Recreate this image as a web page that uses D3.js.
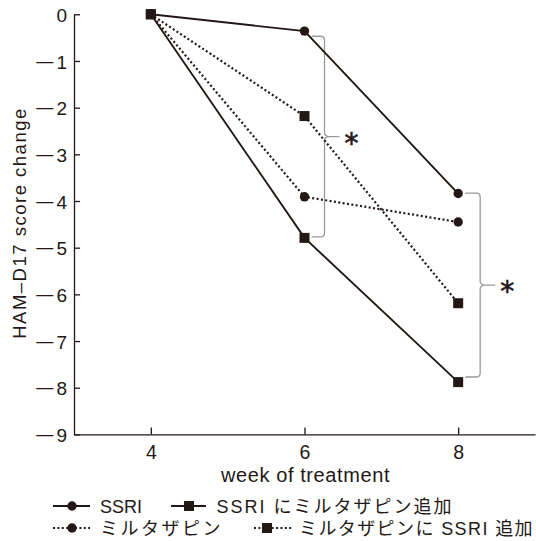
<!DOCTYPE html>
<html>
<head>
<meta charset="utf-8">
<script src="https://cdn.jsdelivr.net/npm/d3@7"></script>
<style>
  body { margin: 0; background: #fff; }
  svg { display: block; }
</style>
</head>
<body>
<div id="chart"></div>
<script>
///////////////////////////////////////////////////////////////////////////////
//// Data /////////////////////////////////////////////////////////////////////
///////////////////////////////////////////////////////////////////////////////
const weeks = [4, 6, 8];

const seriesNames = ["SSRI", "SSRI にミルタザピン追加", "ミルタザピン", "ミルタザピンに SSRI 追加"];

// HAM-D17 score change per week
const ssri = [0, -0.36, -3.84];
const ssriPlusMirtazapine = [0, -4.79, -7.88];
const mirtazapine = [0, -3.91, -4.45];
const mirtazapinePlusSsri = [0, -2.18, -6.19];

const yTicks = [0, -1, -2, -3, -4, -5, -6, -7, -8, -9];
const xTicks = [4, 6, 8];

const xLabel = "week of treatment";
const yLabel = "HAM–D17 score change";

// Significance brackets (week, top value, bottom value)
const bracketWeeks = [6, 8];
const bracketTops = [-0.47, -3.83];
const bracketBottoms = [-4.77, -7.77];
const bracketMarks = ["*", "*"];

///////////////////////////////////////////////////////////////////////////////
//// Set Up ///////////////////////////////////////////////////////////////////
///////////////////////////////////////////////////////////////////////////////
const width = 536,
      height = 541;

const ink = "#231815",
      bracketColor = "#9a9a9a";

const latinFont = "'Liberation Sans', Arial, sans-serif",
      mixedFont = "'Liberation Sans', 'Noto Sans CJK JP', sans-serif";

const x = d3.scaleLinear()
    .domain([3, 9])
    .range([74, 535]);

const y = d3.scaleLinear()
    .domain([0, -9])
    .range([14.3, 434.4]);

const series = [ssri, ssriPlusMirtazapine, mirtazapine, mirtazapinePlusSsri];

// Drawing style of each series: line dotted or not, marker shape
const seriesStyle = [
  { dotted: false, shape: "circle" },
  { dotted: false, shape: "square" },
  { dotted: true, shape: "circle" },
  { dotted: true, shape: "square" }
];

const svg = d3.select("#chart")
  .append("svg")
    .attr("width", width)
    .attr("height", height);

///////////////////////////////////////////////////////////////////////////////
//// Axes /////////////////////////////////////////////////////////////////////
///////////////////////////////////////////////////////////////////////////////
const tickFont = 19,
      tickPad = 7;

const yAxis = svg.append("g")
    .attr("transform", `translate(${x(3)},0)`)
    .call(d3.axisLeft(y)
        .tickValues(yTicks)
        .tickFormat(d => Math.abs(d))
        .tickSizeInner(-6)
        .tickSizeOuter(0)
        .tickPadding(tickPad));

yAxis.selectAll("text")
    .attr("font-size", tickFont)
    .attr("font-family", latinFont)
    .attr("fill", ink)
    .attr("dy", "0.37em");

// Long minus sign in front of negative labels, as in the printed figure
yAxis.selectAll(".tick")
    .filter(d => d < 0)
  .append("text")
    .attr("transform", `translate(${-tickPad - 0.556 * tickFont - 1.5},0) scale(1.85,1)`)
    .attr("dy", "0.37em")
    .attr("text-anchor", "end")
    .attr("font-size", tickFont)
    .attr("font-family", latinFont)
    .attr("fill", ink)
    .text("\u2212");

const xAxis = svg.append("g")
    .attr("transform", `translate(0,${y(-9)})`)
    .call(d3.axisBottom(x)
        .tickValues(xTicks)
        .tickFormat(d3.format("d"))
        .tickSizeInner(-7)
        .tickSizeOuter(0)
        .tickPadding(11));

xAxis.selectAll("text")
    .attr("font-size", 19.5)
    .attr("font-family", latinFont)
    .attr("fill", ink);

svg.selectAll(".domain, .tick line")
    .attr("stroke", ink)
    .attr("stroke-width", 1.3);

// Axis titles
svg.append("text")
    .attr("x", 305.5)
    .attr("y", 482.3)
    .attr("text-anchor", "middle")
    .attr("font-family", latinFont)
    .attr("font-size", 20)
    .attr("fill", ink)
    .attr("letter-spacing", 0.6)
    .text(xLabel);

svg.append("text")
    .attr("transform", "translate(26,223) rotate(-90)")
    .attr("text-anchor", "middle")
    .attr("font-family", latinFont)
    .attr("font-size", 18.5)
    .attr("fill", ink)
    .attr("letter-spacing", 1.5)
    .text(yLabel);

///////////////////////////////////////////////////////////////////////////////
//// Brackets /////////////////////////////////////////////////////////////////
///////////////////////////////////////////////////////////////////////////////
const bracketOffset = [20, 22];

bracketWeeks.forEach((w, i) => {
  const bx = x(w) + bracketOffset[i],
        y0 = y(bracketTops[i]),
        y1 = y(bracketBottoms[i]),
        ym = (y0 + y1) / 2,
        left = x(w) + 7;

  const p = d3.path();
  p.moveTo(left, y0);
  p.lineTo(bx - 4, y0);
  p.quadraticCurveTo(bx, y0, bx, y0 + 4);
  p.lineTo(bx, ym - 4);
  p.quadraticCurveTo(bx, ym, bx + 5, ym);
  p.lineTo(bx + 15, ym);
  p.moveTo(bx + 5, ym);
  p.quadraticCurveTo(bx, ym, bx, ym + 4);
  p.lineTo(bx, y1 - 4);
  p.quadraticCurveTo(bx, y1, bx - 4, y1);
  p.lineTo(left, y1);

  svg.append("path")
      .attr("d", p.toString())
      .attr("fill", "none")
      .attr("stroke", bracketColor)
      .attr("stroke-width", 1.3);

  svg.append("text")
      .attr("x", bx + 27)
      .attr("y", ym + 16)
      .attr("text-anchor", "middle")
      .attr("font-family", "'DejaVu Sans', sans-serif")
      .attr("font-size", 28)
      .attr("fill", ink)
      .attr("stroke", ink)
      .attr("stroke-width", 0.6)
      .text(bracketMarks[i]);
});

///////////////////////////////////////////////////////////////////////////////
//// Lines and markers ////////////////////////////////////////////////////////
///////////////////////////////////////////////////////////////////////////////
const line = d3.line()
    .x((d, i) => x(weeks[i]))
    .y(d => y(d));

function marker(g, shape, cx, cy) {
  if (shape === "circle") {
    g.append("circle")
        .attr("cx", cx)
        .attr("cy", cy)
        .attr("r", 4.7)
        .attr("fill", ink);
  } else {
    g.append("rect")
        .attr("x", cx - 5)
        .attr("y", cy - 5)
        .attr("width", 10)
        .attr("height", 10)
        .attr("fill", ink);
  }
}

function styleLine(sel, dotted) {
  sel.attr("fill", "none")
      .attr("stroke", ink)
      .attr("stroke-width", dotted ? 2.2 : 1.9)
      .attr("stroke-dasharray", dotted ? "2,2.4" : null);
}

series.forEach((values, i) => {
  svg.append("path")
      .datum(values)
      .attr("d", line)
      .call(styleLine, seriesStyle[i].dotted);
});

series.forEach((values, i) => {
  const g = svg.append("g");
  values.forEach((v, j) => marker(g, seriesStyle[i].shape, x(weeks[j]), y(v)));
});

///////////////////////////////////////////////////////////////////////////////
//// Legend ///////////////////////////////////////////////////////////////////
///////////////////////////////////////////////////////////////////////////////
const legendLayout = [
  { x0: 53, x1: 90, mx: 72, tx: 100, ls: 0, row: 0 },
  { x0: 171, x1: 206, mx: 189, tx: 216.5, ls: 2, row: 0 },
  { x0: 53, x1: 90, mx: 72, tx: 100, ls: 2.5, row: 1 },
  { x0: 254, x1: 293, mx: 267, tx: 299, ls: 1.4, row: 1 }
];
const rowY = [506, 528];

seriesNames.forEach((name, i) => {
  const L = legendLayout[i],
        ly = rowY[L.row];
  const g = svg.append("g");

  g.append("line")
      .attr("x1", L.x0)
      .attr("x2", L.x1)
      .attr("y1", ly)
      .attr("y2", ly)
      .call(styleLine, seriesStyle[i].dotted);

  marker(g, seriesStyle[i].shape, L.mx, ly);

  g.append("text")
      .attr("x", L.tx)
      .attr("y", ly + 7.3)
      .attr("font-family", mixedFont)
      .attr("font-size", 18)
      .attr("fill", ink)
      .attr("letter-spacing", L.ls)
      .text(name);
});
</script>
</body>
</html>
